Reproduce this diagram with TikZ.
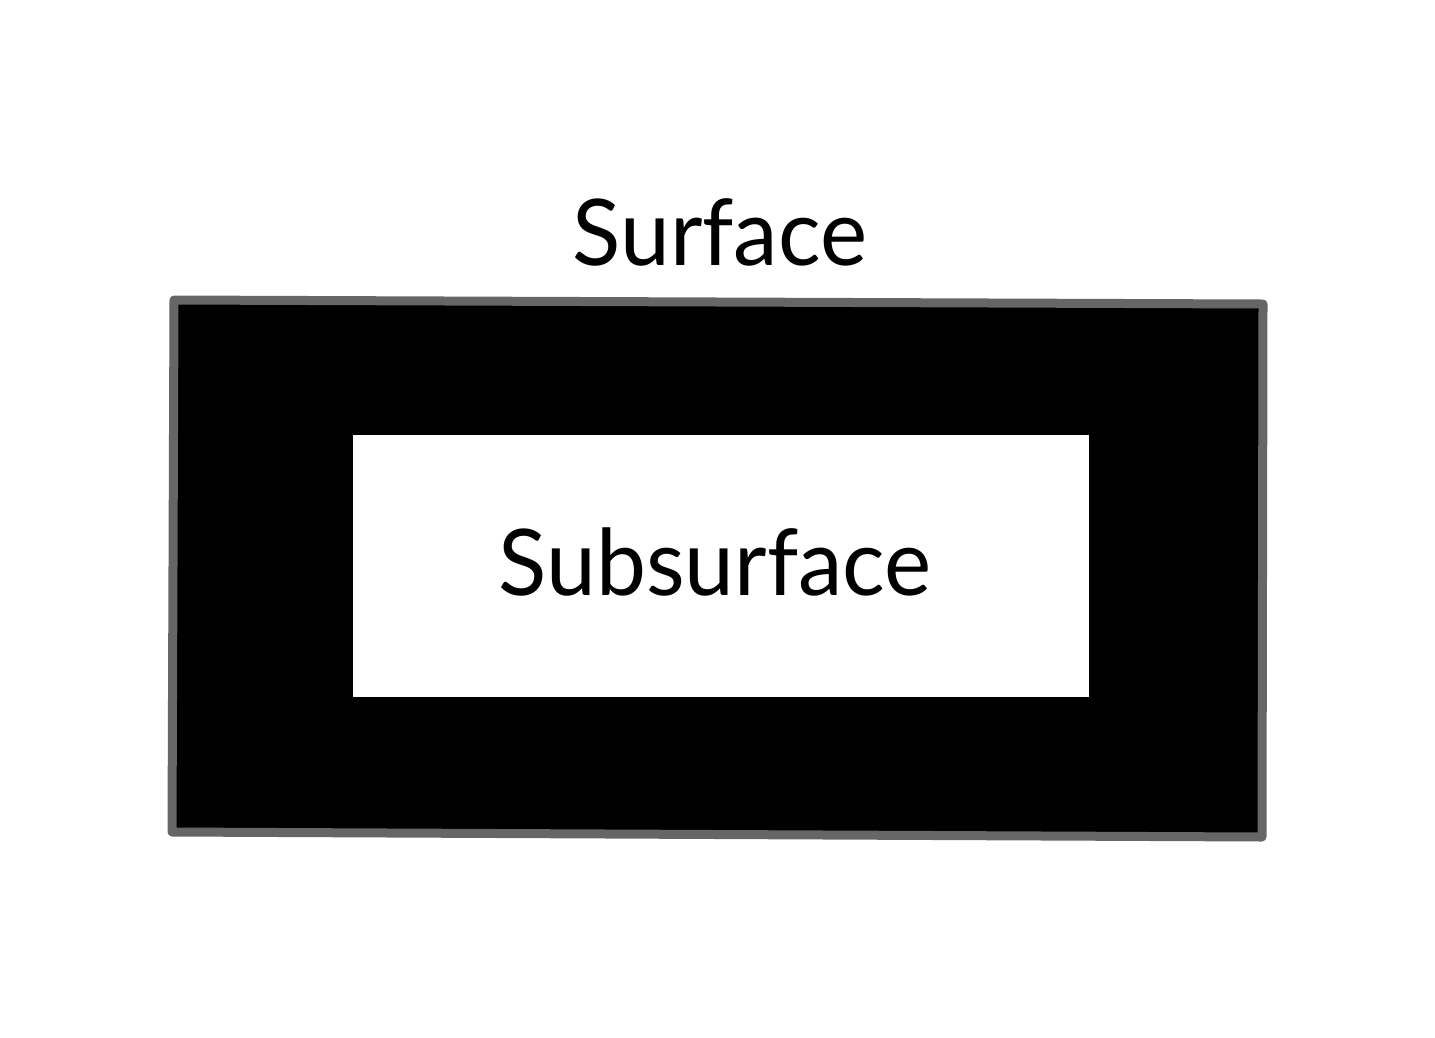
\documentclass[tikz,border=0pt]{standalone}
\usepackage{fontspec}
\setmainfont{Lato}
\begin{document}
\begin{tikzpicture}[x=1pt,y=-1pt,
  label/.style={font=\fontsize{92}{100}\selectfont, inner sep=0pt, anchor=base, text=black, xscale=0.97}]
\useasboundingbox (0,0) rectangle (1435,1037);
\fill[white] (0,0) rectangle (1435,1037);
% outer surface quadrilateral
\draw[fill=black, draw=black!60, line width=9pt, line join=round]
  (174,300) coordinate (tl) -- (1263,304) coordinate (tr) -- (1262,837) coordinate (br) -- (172,832) coordinate (bl) -- cycle;
% inner subsurface
\fill[white] (353,435) rectangle (1089,697);
\node[label] (surf) at (720,265) {Surface};
\node[label] (sub) at (715,595) {Subsurface};
\end{tikzpicture}
\end{document}
